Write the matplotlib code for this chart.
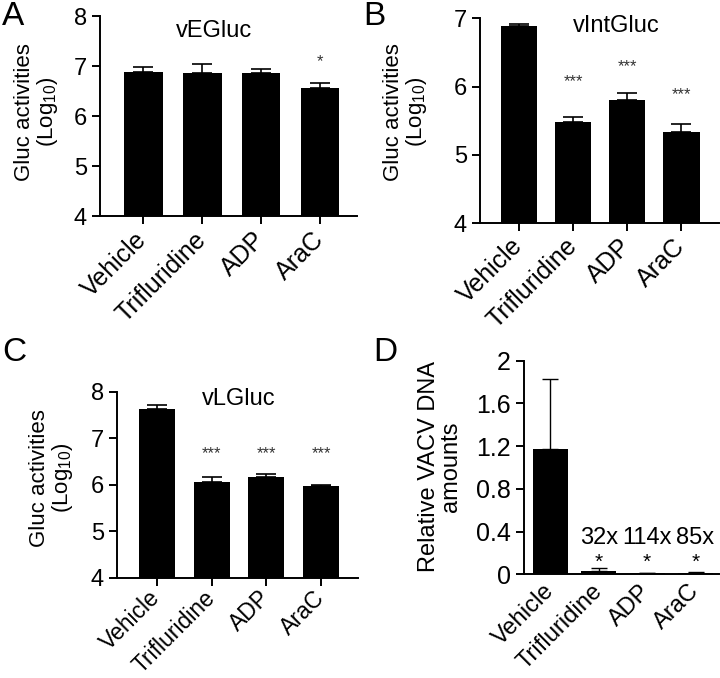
import matplotlib
matplotlib.use("Agg")
import matplotlib.pyplot as plt
import numpy as np

plt.rcParams['font.family'] = ['Liberation Sans', 'DejaVu Sans']
plt.rcParams['mathtext.fontset'] = 'custom'
plt.rcParams['mathtext.rm'] = 'Liberation Sans'

treatments = ["Vehicle", "Trifluridine", "ADP", "AraC"]

# panel A: vEGluc (log10)
a_mean = [6.89, 6.86, 6.87, 6.57]
a_err = [0.09, 0.18, 0.08, 0.09]
a_stars = ["", "", "", "*"]

# panel B: vIntGluc (log10)
b_mean = [6.88, 5.48, 5.81, 5.34]
b_err = [0.03, 0.07, 0.10, 0.11]
b_stars = ["", "***", "***", "***"]

# panel C: vLGluc (log10)
c_mean = [7.63, 6.06, 6.16, 5.98]
c_err = [0.08, 0.10, 0.07, 0.01]
c_stars = ["", "***", "***", "***"]

# panel D: relative VACV DNA
d_mean = [1.17, 0.035, 0.010, 0.014]
d_err = [0.66, 0.02, 0.003, 0.004]
d_stars = ["", "*", "*", "*"]
d_fold = ["", "32x", "114x", "85x"]

W, H = 720, 678


def fx(px):
    return px / W


def fy(py):
    return 1 - py / H


def style_axis(ax):
    ax.spines['top'].set_visible(False)
    ax.spines['right'].set_visible(False)
    ax.spines['left'].set_linewidth(1.4)
    ax.spines['bottom'].set_linewidth(1.4)
    ax.tick_params(width=1.4, length=6, direction='out')


def gluc_panel(ax, means, errs, stars, ylim, title, tx, ty, star_y, width, xlim,
               xsize=18, xpad=8):
    x = np.arange(len(treatments))
    ax.bar(x, np.array(means) - ylim[0], width, bottom=ylim[0], color='black')
    ax.errorbar(x, means, yerr=[np.zeros(len(errs)), errs], fmt='none',
                ecolor='black', elinewidth=1.2, capsize=7, capthick=1.2)
    for xi, s, sy in zip(x, stars, star_y):
        if s:
            ax.text(xi, sy, s, ha='center', va='center', fontsize=12, color='#333333')
    ax.text(tx, ty, title, ha='center', va='center', fontsize=17)
    ax.set_ylim(*ylim)
    ax.set_xlim(*xlim)
    ax.set_yticks(np.arange(ylim[0], ylim[1] + 1))
    ax.set_xticks(x)
    ax.set_xticklabels(treatments, rotation=45, ha='right', va='center',
                       rotation_mode='anchor', fontsize=xsize)
    ax.tick_params(axis='y', labelsize=17)
    ax.tick_params(axis='x', pad=xpad)
    style_axis(ax)


fig = plt.figure(figsize=(7.2, 6.78), dpi=100)

axA = fig.add_axes([0.139, 0.681, 0.357, 0.295])
gluc_panel(axA, a_mean, a_err, a_stars, (4, 8), "vEGluc", 1.2, 7.7,
           [0, 0, 0, 7.1], 0.66, (-0.73, 3.63))

axB = fig.add_axes([0.667, 0.671, 0.332, 0.302])
gluc_panel(axB, b_mean, b_err, b_stars, (4, 7), "vIntGluc", 1.8, 6.88,
           [0, 6.07, 6.29, 5.88], 0.67, (-0.72, 3.70))

axC = fig.add_axes([0.1625, 0.1475, 0.335, 0.2745])
gluc_panel(axC, c_mean, c_err, c_stars, (4, 8), "vLGluc", 1.5, 7.85,
           [0, 6.67, 6.67, 6.67], 0.66, (-0.73, 3.68), xsize=16.5, xpad=6)

gluc_label = "Gluc activities\n(Log$_{10}$)"
for px, py in [(37, 112), (406, 112), (52, 478)]:
    fig.text(fx(px), fy(py), gluc_label, rotation=90, ha='center', va='center',
             fontsize=16, linespacing=1.05, multialignment='center')

axD = fig.add_axes([0.728, 0.153, 0.271, 0.315])
xd = np.arange(len(treatments))
axD.bar(xd, d_mean, 0.72, color='black')
axD.errorbar(xd, d_mean, yerr=[np.zeros(len(d_err)), d_err], fmt='none',
             ecolor='black', elinewidth=1.0, capsize=6, capthick=1.0)
for xi, s, f in zip(xd, d_stars, d_fold):
    if s:
        axD.text(xi, 0.11, s, ha='center', va='center', fontsize=15)
    if f:
        axD.text(xi, 0.34, f, ha='center', va='center', fontsize=17)
axD.set_ylim(0, 2)
axD.set_xlim(-0.54, 3.49)
axD.set_yticks([0, 0.4, 0.8, 1.2, 1.6, 2])
axD.set_yticklabels(["0", "0.4", "0.8", "1.2", "1.6", "2"])
axD.set_xticks(xd)
axD.set_xticklabels(treatments, rotation=45, ha='right', va='center',
                    rotation_mode='anchor', fontsize=17)
style_axis(axD)
axD.tick_params(axis='y', labelsize=18)
axD.tick_params(axis='x', length=0, pad=10)
fig.text(fx(440), fy(467), "Relative VACV DNA\namounts", rotation=90,
         ha='center', va='center', fontsize=17, linespacing=0.95,
         multialignment='center')

fig.text(0.003, 0.998, "A", fontsize=24, va='top', ha='left')
fig.text(0.505, 0.998, "B", fontsize=24, va='top', ha='left')
fig.text(0.003, 0.503, "C", fontsize=24, va='top', ha='left')
fig.text(0.518, 0.503, "D", fontsize=24, va='top', ha='left')

fig.savefig("out.png", dpi=100)
